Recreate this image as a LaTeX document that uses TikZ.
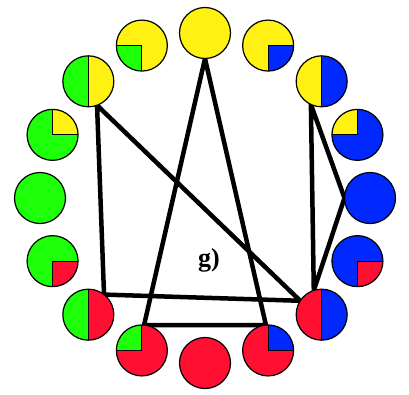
\documentclass[tikz,border=0pt]{standalone}
\usepackage{fontspec}
\setmainfont{Liberation Serif}
\usetikzlibrary{backgrounds}

\definecolor{ylwC}{RGB}{255,242,18}
\definecolor{grnC}{RGB}{30,255,10}
\definecolor{bluC}{RGB}{0,40,255}
\definecolor{redC}{RGB}{255,16,50}

\tikzset{
  disc/.style={circle, draw=black, line width=1.2pt, minimum size=51pt, inner sep=0pt, outer sep=0pt},
  full/.style={disc, fill=#1},
  half/.style 2 args={disc, fill=#1, path picture={
      \fill[#2] (path picture bounding box.north) rectangle (path picture bounding box.south east);
      \draw[line width=1.2pt] (path picture bounding box.north) -- (path picture bounding box.south);}},
  quarter/.style n args={4}{disc, fill=#1, path picture={
      \fill[#2] (path picture bounding box.center) rectangle (path picture bounding box.#3 #4);
      \draw[line width=1.2pt] (path picture bounding box.#3) -- (path picture bounding box.center) -- (path picture bounding box.#4);}},
  link/.style={line width=4.5pt, black}
}

\begin{document}
\begin{tikzpicture}[x=1pt,y=1pt]
    \useasboundingbox (-205,-196) rectangle (204,198);

    % ring of sixteen discs, yellow on top
    \node (ylw)    [full=ylwC]                        at (90:165)    {};
    \node (ylwB)   [quarter={ylwC}{bluC}{south}{east}] at (67.5:165)  {};
    \node (ylwblu) [half={ylwC}{bluC}]                at (45:165)    {};
    \node (bluY)   [quarter={bluC}{ylwC}{north}{west}] at (22.5:165)  {};
    \node (blu)    [full=bluC]                        at (0:165)     {};
    \node (bluR)   [quarter={bluC}{redC}{south}{east}] at (-22.5:165) {};
    \node (redblu) [half={redC}{bluC}]                at (-45:165)   {};
    \node (redB)   [quarter={redC}{bluC}{north}{east}] at (-67.5:165) {};
    \node (red)    [full=redC]                        at (-90:165)   {};
    \node (redG)   [quarter={redC}{grnC}{north}{west}] at (-112.5:165) {};
    \node (grnred) [half={grnC}{redC}]                at (-135:165)  {};
    \node (grnR)   [quarter={grnC}{redC}{south}{east}] at (-157.5:165) {};
    \node (grn)    [full=grnC]                        at (180:165)   {};
    \node (grnY)   [quarter={grnC}{ylwC}{north}{east}] at (157.5:165) {};
    \node (grnylw) [half={grnC}{ylwC}]                at (135:165)   {};
    \node (ylwG)   [quarter={ylwC}{grnC}{south}{west}] at (112.5:165) {};

    \node (tag) at (4,-62) {\fontsize{26}{28}\selectfont\bfseries g)};

    % triangles
    \begin{scope}[on background layer]
        \draw[link] (ylw.-90) -- (redG.85) -- (redB.95) -- cycle;
        \draw[link] (grnylw.-70) -- (grnred.52) -- (redblu.147) -- cycle;
        \draw[link] (ylwblu.-115) -- (blu.180) -- (redblu.108) -- cycle;
    \end{scope}
\end{tikzpicture}
\end{document}
